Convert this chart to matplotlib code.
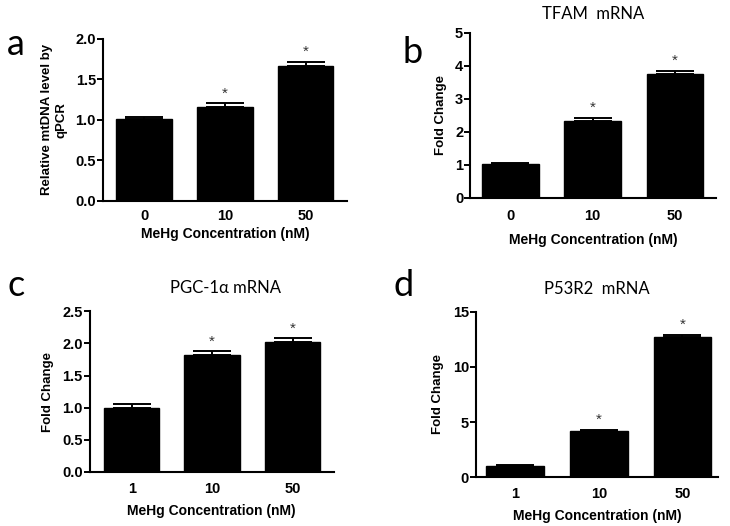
import numpy as np
import matplotlib
matplotlib.use("Agg")
import matplotlib.pyplot as plt

plt.rcParams['font.family'] = ['Liberation Sans', 'DejaVu Sans']

# --- data ---
groups_ab = ["0", "10", "50"]
groups_cd = ["1", "10", "50"]

mtdna_vals = [1.01, 1.16, 1.66]
mtdna_err = [0.02, 0.05, 0.06]

tfam_vals = [1.02, 2.32, 3.76]
tfam_err = [0.04, 0.11, 0.09]

pgc_vals = [1.00, 1.82, 2.02]
pgc_err = [0.05, 0.06, 0.06]

p53r2_vals = [1.03, 4.15, 12.70]
p53r2_err = [0.08, 0.15, 0.22]

# which bars get a significance star
sig_ab = [False, True, True]
sig_cd = [False, True, True]

fig = plt.figure(figsize=(7.3, 5.26), dpi=100)


def bar_panel(rect, labels, vals, err, sig, ylim, yticks, yfmt, ylabel,
              title, letter, letter_xy, xlim, xpad=6, xlabelpad=5,
              title_x=0.5, title_pad=10):
    ax = fig.add_axes(rect)
    x = np.arange(len(labels))
    ax.bar(x, vals, width=0.69, color='black', edgecolor='black')
    ax.errorbar(x, vals, yerr=[np.zeros(len(vals)), err], fmt='none',
                ecolor='black', elinewidth=1.4, capsize=14, capthick=1.4)
    for xi, v, e, s in zip(x, vals, err, sig):
        if s:
            ax.annotate('*', (xi, v + e), xytext=(0, 4), textcoords='offset points',
                        ha='center', va='baseline', fontsize=11, color='#333333')
    ax.set_xlim(*xlim)
    ax.set_ylim(*ylim)
    ax.set_yticks(yticks)
    ax.set_yticklabels([yfmt.format(t) for t in yticks])
    ax.set_xticks(x)
    ax.set_xticklabels(labels)
    for side in ('top', 'right'):
        ax.spines[side].set_visible(False)
    for side in ('left', 'bottom'):
        ax.spines[side].set_linewidth(1.5)
    ax.tick_params(axis='y', direction='out', length=4, width=1.4, pad=1,
                   labelsize=10.5)
    ax.tick_params(axis='x', length=0, pad=xpad, labelsize=10.5)
    for t in ax.get_xticklabels() + ax.get_yticklabels():
        t.set_fontweight('bold')
    ax.set_xlabel('MeHg Concentration (nM)', fontsize=10, fontweight='bold',
                  labelpad=xlabelpad)
    ax.set_ylabel(ylabel, fontsize=9.5, fontweight='bold', labelpad=6)
    if title:
        ax.set_title(title, fontsize=12, family=['Lato', 'DejaVu Sans'],
                     x=title_x, pad=title_pad)
    fig.text(letter_xy[0], letter_xy[1], letter, fontsize=26,
             family=['Lato', 'DejaVu Sans'], ha='center', va='center')
    return ax


bar_panel([0.141, 0.618, 0.334, 0.308], groups_ab, mtdna_vals, mtdna_err, sig_ab,
          (0, 2.0), [0, 0.5, 1.0, 1.5, 2.0], '{:.1f}',
          'Relative mtDNA level by\nqPCR', None, 'a', (0.022, 0.915), (-0.51, 2.51),
          xpad=6, xlabelpad=3)

bar_panel([0.644, 0.624, 0.337, 0.314], groups_ab, tfam_vals, tfam_err, sig_ab,
          (0, 5), [0, 1, 2, 3, 4, 5], '{:d}',
          'Fold Change', 'TFAM  mRNA', 'b', (0.565, 0.900), (-0.49, 2.50),
          xpad=8, xlabelpad=7)

bar_panel([0.123, 0.103, 0.334, 0.305], groups_cd, pgc_vals, pgc_err, sig_cd,
          (0, 2.5), [0, 0.5, 1.0, 1.5, 2.0, 2.5], '{:.1f}',
          'Fold Change', 'PGC-1α mRNA', 'c', (0.022, 0.458), (-0.52, 2.51),
          xpad=7, xlabelpad=6, title_x=0.555, title_pad=13)

bar_panel([0.652, 0.093, 0.332, 0.314], groups_cd, p53r2_vals, p53r2_err, sig_cd,
          (0, 15), [0, 5, 10, 15], '{:d}',
          'Fold Change', 'P53R2  mRNA', 'd', (0.553, 0.458), (-0.47, 2.43),
          xpad=7, xlabelpad=6, title_pad=13)

fig.savefig('out.png', dpi=100)
